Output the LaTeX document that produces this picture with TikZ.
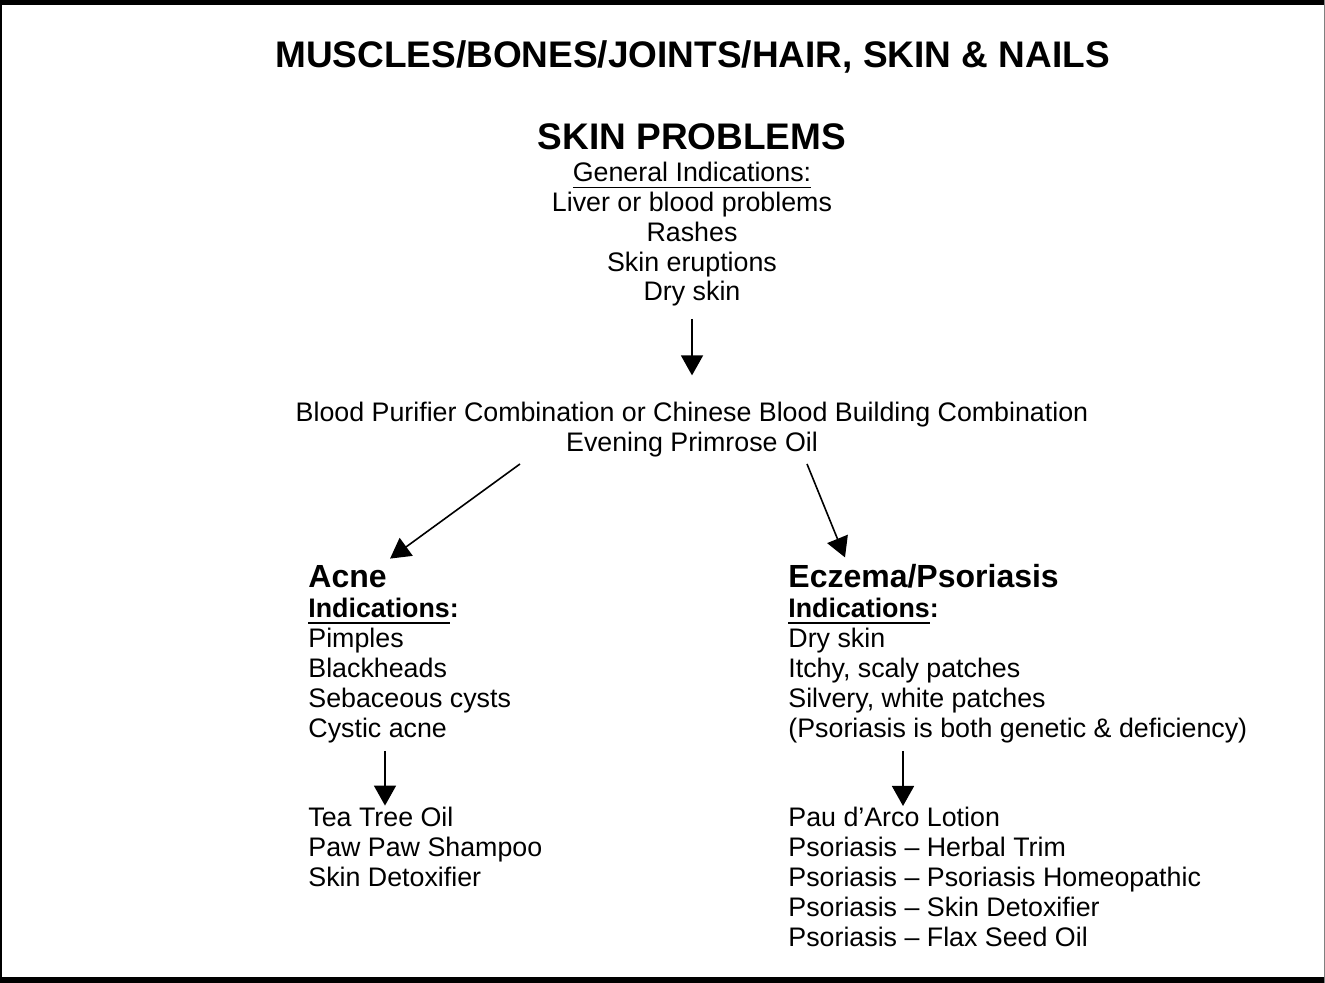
\documentclass[tikz,border=0pt]{standalone}
\usepackage{fontspec}
\setmainfont{Liberation Sans}
\usetikzlibrary{arrows.meta}
\newcommand{\ulbar}[2]{\setbox0\hbox{#2}\rlap{\rule[-3.3pt]{\wd0}{#1}}\box0}

\begin{document}
\begin{tikzpicture}[>={Triangle[width=11pt,length=10pt]},x=0.5pt,y=-0.5pt,
  txt/.style={inner sep=0pt,font=\fontsize{13.4}{14.9}\selectfont},
  hd/.style={inner sep=0pt,font=\bfseries\fontsize{16}{19}\selectfont},
  big/.style={inner sep=0pt,font=\bfseries\fontsize{18.5}{22}\selectfont}]
\useasboundingbox (0,0) rectangle (1325,983);
\fill (0,0) rectangle (1325,5);
\fill (0,977) rectangle (1325,983);
\fill (0,0) rectangle (2,983);
\fill[gray] (1324,0) rectangle (1325,983);
\node[big,anchor=base] (title) at (692.5,68) {MUSCLES/BONES/JOINTS/HAIR, SKIN \& NAILS};
\node[big,anchor=base] (skin) at (692,150) {SKIN PROBLEMS};
\node[txt,anchor=base,align=center] (gen) at (692,301) {\ulbar{0.8pt}{General Indications:}\\Liver or blood problems\\Rashes\\Skin eruptions\\Dry skin};
\node[txt,anchor=base,align=center] (blood) at (692,451) {Blood Purifier Combination or Chinese Blood Building Combination\\Evening Primrose Oil};
\node[hd,anchor=base west] (acne) at (308,587) {Acne};
\node[hd,anchor=base west] (ecz) at (788,587) {Eczema/Psoriasis};
\node[txt,anchor=base west,align=left] (acnes) at (308,737) {\textbf{\ulbar{1.2pt}{Indications}:}\\Pimples\\Blackheads\\Sebaceous cysts\\Cystic acne};
\node[txt,anchor=base west,align=left] (eczs) at (788,737) {\textbf{\ulbar{1.2pt}{Indications}:}\\Dry skin\\Itchy, scaly patches\\Silvery, white patches\\(Psoriasis is both genetic \& deficiency)};
\node[txt,anchor=base west,align=left] (acnerx) at (308,886) {Tea Tree Oil\\Paw Paw Shampoo\\Skin Detoxifier};
\node[txt,anchor=base west,align=left] (eczrx) at (788,946) {Pau d’Arco Lotion\\Psoriasis – Herbal Trim\\Psoriasis – Psoriasis Homeopathic\\Psoriasis – Skin Detoxifier\\Psoriasis – Flax Seed Oil};
\draw[->,thick] ([shift={(0,12)}]gen.south) -- ([shift={(0,-26)}]blood.north);
\draw[->,thick] ([shift={(-172,7)}]blood.south) -- ([shift={(3,-6)}]acne.north east);
\draw[->,thick] ([shift={(115,7)}]blood.south) -- ([shift={(57,-6)}]ecz.north west);
\draw[->,thick] ([shift={(77,8)}]acnes.south west) -- ([shift={(77,-1)}]acnerx.north west);
\draw[->,thick] ([shift={(115,8)}]eczs.south west) -- ([shift={(115,-1)}]eczrx.north west);
\end{tikzpicture}
\end{document}
